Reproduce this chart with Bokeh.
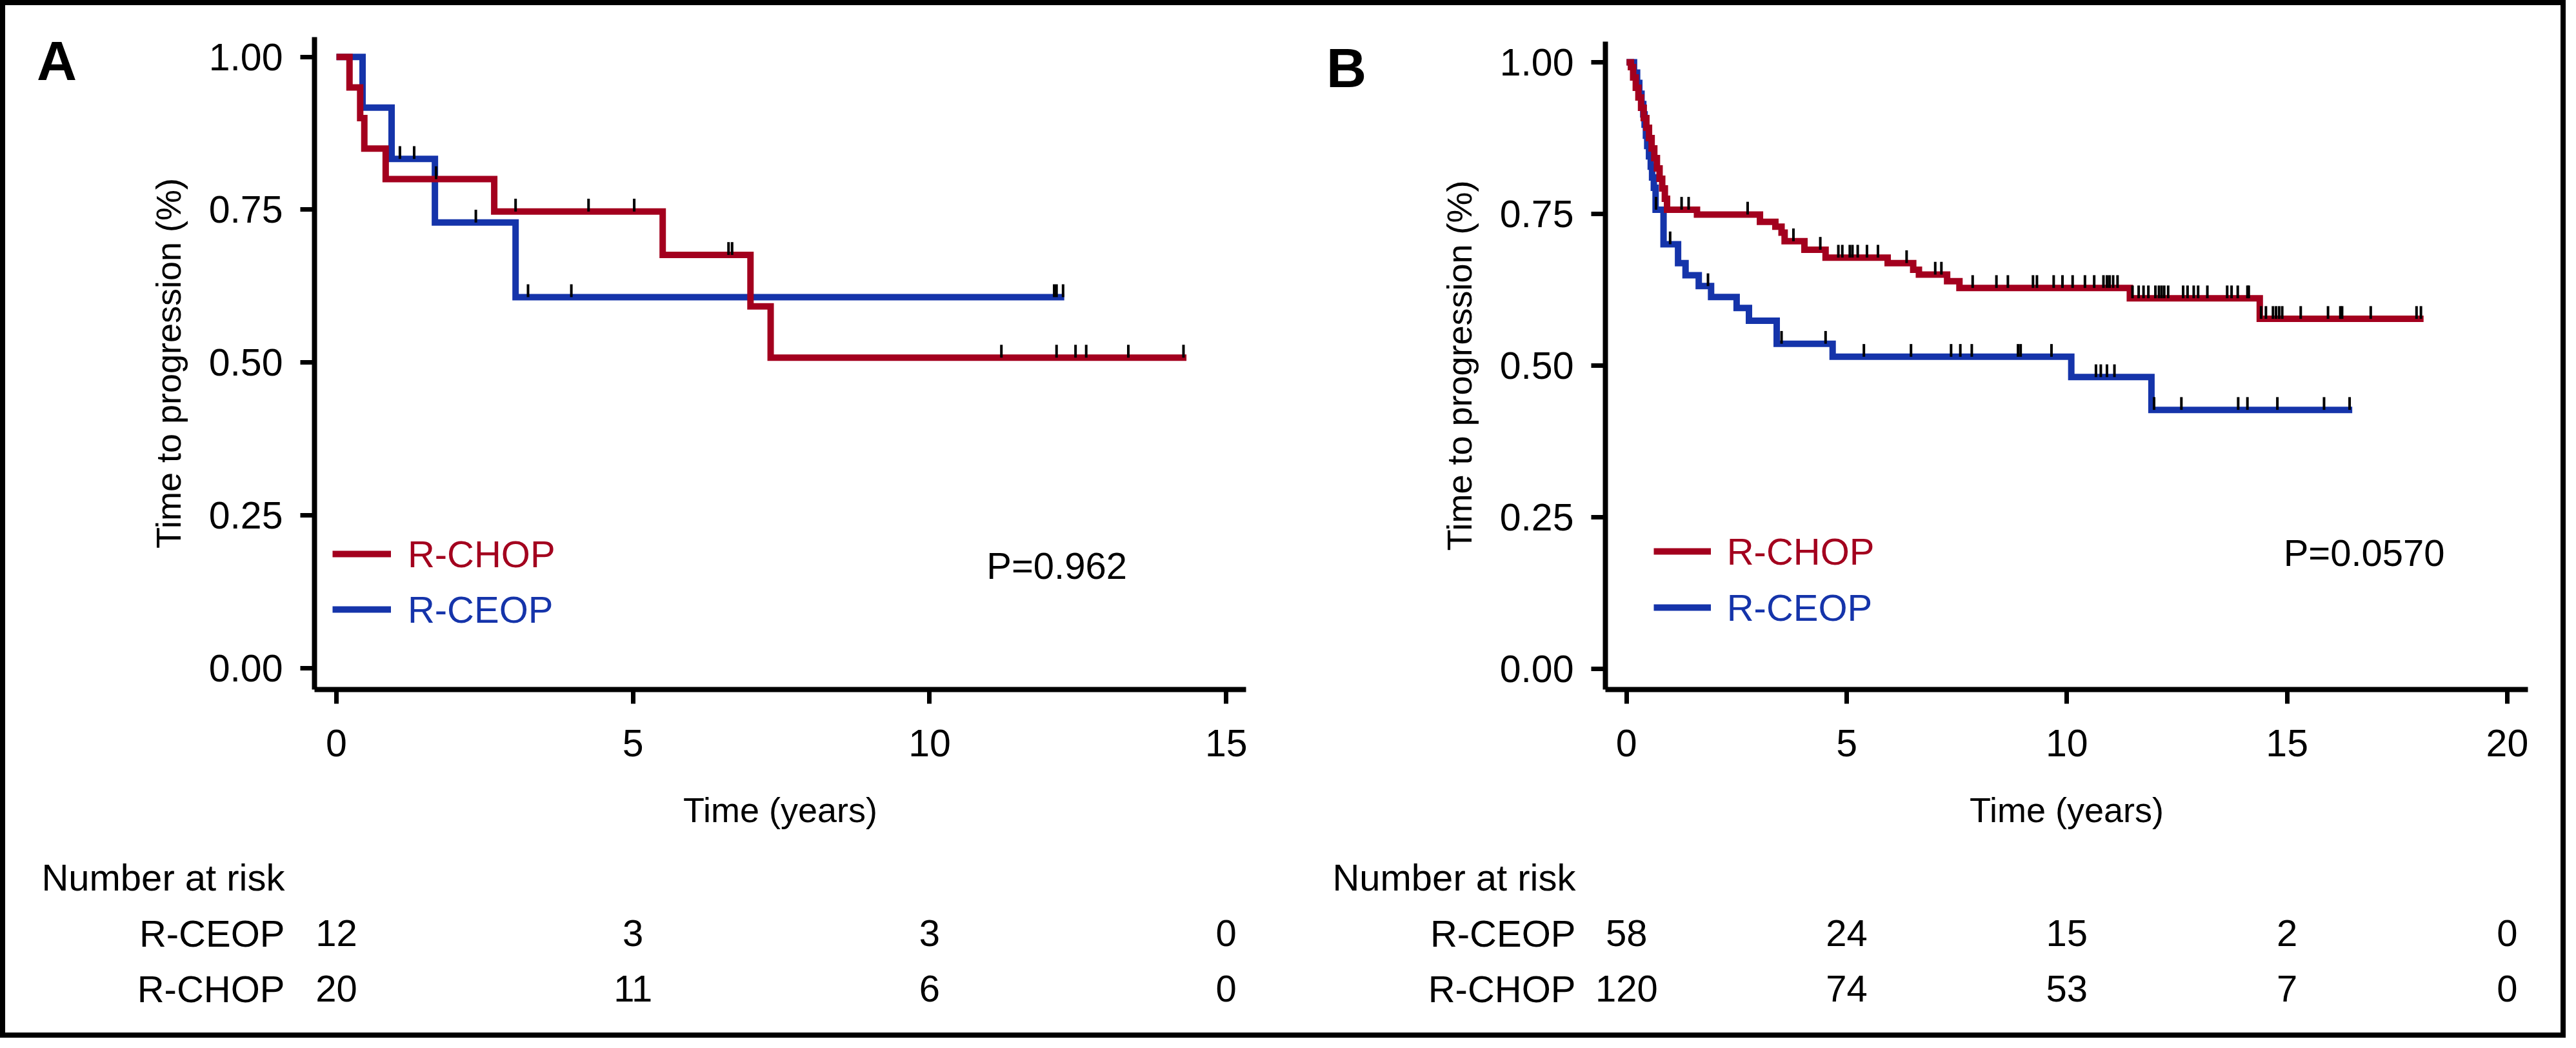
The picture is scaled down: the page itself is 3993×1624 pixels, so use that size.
import numpy as np
from bokeh.plotting import figure
from bokeh.models import (Range1d, FixedTicker, NumeralTickFormatter, Label, LabelSet,
                          Legend, LegendItem, ColumnDataSource, Div)
from bokeh.layouts import row, column
from bokeh.embed import file_html
from bokeh.resources import INLINE
from bokeh.core.properties import value

# ---------------------------------------------------------------- data
# Panel A
a_chop_time = [0, 0.22, 0.40, 0.47, 0.83, 2.66, 5.50, 6.98, 7.32, 14.33]
a_chop_surv = [1.0, 0.95, 0.90, 0.85, 0.80, 0.747, 0.676, 0.592, 0.508, 0.508]
a_chop_cens = [1.68, 3.02, 4.25, 5.02, 6.61, 6.67, 11.21, 12.14, 12.46, 12.64, 13.35, 14.28]
a_ceop_time = [0, 0.44, 0.93, 1.66, 3.02, 12.27]
a_ceop_surv = [1.0, 0.917, 0.833, 0.729, 0.607, 0.607]
a_ceop_cens = [1.07, 1.31, 2.35, 3.23, 3.96, 12.10, 12.14, 12.25]
a_risk_time = [0, 5, 10, 15]
a_risk_ceop = [12, 3, 3, 0]
a_risk_chop = [20, 11, 6, 0]
a_pvalue = "P=0.962"
a_xticks = [0, 5, 10, 15]

# Panel B
b_chop_time = [0, 0.10, 0.15, 0.21, 0.27, 0.33, 0.39, 0.45, 0.51, 0.57, 0.63, 0.69, 0.75,
               0.81, 0.87, 0.92, 1.60, 3.03, 3.38, 3.52, 3.59, 4.04, 4.52, 5.93, 6.51, 6.64,
               7.28, 7.56, 11.43, 14.38, 18.10]
b_chop_surv = [1.0, 0.992, 0.975, 0.958, 0.942, 0.925, 0.908, 0.892, 0.875, 0.858, 0.842,
               0.825, 0.808, 0.792, 0.775, 0.757, 0.749, 0.737, 0.729, 0.719, 0.705, 0.691,
               0.678, 0.669, 0.658, 0.650, 0.639, 0.628, 0.611, 0.577, 0.577]
b_chop_cens = [1.25, 1.41, 2.75, 3.79, 4.40, 4.81, 4.90, 5.07, 5.13, 5.25, 5.46, 5.71, 6.36,
               7.01, 7.15, 7.86, 8.40, 8.66, 9.23, 9.32, 9.70, 9.90, 10.13, 10.41, 10.62,
               10.83, 10.91, 10.97, 11.05, 11.15, 11.49, 11.63, 11.74, 11.85, 12.01, 12.09,
               12.15, 12.21, 12.30, 12.64, 12.74, 12.88, 12.98, 13.19, 13.64, 13.74, 13.88,
               14.10, 14.13, 14.41, 14.52, 14.68, 14.75, 14.82, 14.89, 15.31, 15.93, 16.21,
               16.25, 16.90, 17.94, 18.04]
b_ceop_time = [0, 0.17, 0.24, 0.29, 0.34, 0.38, 0.41, 0.44, 0.47, 0.51, 0.55, 0.58, 0.62,
               0.66, 0.84, 1.17, 1.34, 1.64, 1.92, 2.50, 2.78, 3.41, 4.68, 10.10, 11.92, 16.48]
b_ceop_surv = [1.0, 0.983, 0.966, 0.948, 0.931, 0.914, 0.897, 0.879, 0.862, 0.845, 0.828,
               0.810, 0.793, 0.757, 0.700, 0.669, 0.649, 0.631, 0.613, 0.595, 0.574, 0.536,
               0.5145, 0.481, 0.427, 0.427]
b_ceop_cens = [0.67, 0.99, 1.85, 3.52, 4.52, 5.39, 6.46, 7.37, 7.58, 7.84, 8.89, 8.95, 9.65,
               10.66, 10.77, 10.91, 11.08, 11.98, 12.60, 13.89, 14.10, 14.78, 15.84, 16.42]
b_risk_time = [0, 5, 10, 15, 20]
b_risk_ceop = [58, 24, 15, 2, 0]
b_risk_chop = [120, 74, 53, 7, 0]
b_pvalue = "P=0.0570"
b_xticks = [0, 5, 10, 15, 20]

y_ticks = [0, 0.25, 0.5, 0.75, 1.0]
groups = ["R-CHOP", "R-CEOP"]
risk_rows = ["R-CHOP", "R-CEOP", "Number at risk"]

# ---------------------------------------------------------------- style
RED = "#A3001E"
BLUE = "#1534AA"
FONT = "Liberation Sans"
TICK_H = 0.021
LW = 10

# reference-pixel -> layout-pixel helpers (inner area inside the 8px frame)
SX = 3961 / 3976
SY = 1592 / 1607
def X(r): return (r - 8) * SX
def Y(r): return (r - 8) * SY

WA = round(X(2000))
WB = 3961 - WA
HK = round(Y(1310))
HR = 1592 - HK


def style_axis(ax, label_standoff, axis_label_standoff):
    ax.axis_line_width = 8
    ax.axis_line_color = "black"
    ax.major_tick_line_width = 7
    ax.major_tick_line_color = "black"
    ax.major_tick_out = 22
    ax.major_tick_in = 0
    ax.minor_tick_line_color = None
    ax.major_label_text_font = FONT
    ax.major_label_text_font_size = "59px"
    ax.major_label_text_color = "black"
    ax.major_label_standoff = label_standoff
    ax.axis_label_text_font = FONT
    ax.axis_label_text_font_size = "54px"
    ax.axis_label_text_font_style = "normal"
    ax.axis_label_text_color = "black"
    ax.axis_label_standoff = axis_label_standoff


def surv_at(times, surv, t):
    idx = np.searchsorted(np.asarray(times), np.asarray(t), side="right") - 1
    return np.asarray(surv)[idx]


def letter_div(letter, width, left, top):
    html = ('<div style="padding-left:%dpx;padding-top:%dpx;font-family:\'Liberation Sans\';'
            'font-weight:bold;font-size:86px;line-height:86px;color:black">%s</div>'
            % (left, top, letter))
    return Div(text=html, width=width, height=HK, margin=0)


def km_panel(fig_x0, width, left_ref, right_ref, top_ref, xr, yr, xticks,
             chop_t, chop_s, chop_c, ceop_t, ceop_s, ceop_c, pval, pval_xy, leg_ref):
    fl_abs = round(X(left_ref))
    fr_abs = round(X(right_ref))
    ft = round(Y(top_ref))
    fb = round(Y(1078))
    p = figure(width=width, height=HK, x_range=Range1d(*xr), y_range=Range1d(*yr),
               min_border_left=fl_abs - fig_x0, min_border_right=fig_x0 + width - fr_abs,
               min_border_top=ft, min_border_bottom=HK - fb,
               toolbar_location=None, output_backend="svg",
               background_fill_color="white", border_fill_color="white",
               outline_line_color=None)
    p.grid.grid_line_color = None
    p.xaxis.ticker = FixedTicker(ticks=xticks)
    p.yaxis.ticker = FixedTicker(ticks=y_ticks)
    p.yaxis.formatter = NumeralTickFormatter(format="0.00")
    p.xaxis.axis_label = "Time (years)"
    p.yaxis.axis_label = "Time to progression (%)"
    style_axis(p.xaxis[0], 40, 50)
    style_axis(p.yaxis[0], 27, 30)

    r_ceop = p.step(x=ceop_t, y=ceop_s, mode="after", line_color=BLUE, line_width=LW,
                    line_join="miter")
    r_chop = p.step(x=chop_t, y=chop_s, mode="after", line_color=RED, line_width=LW,
                    line_join="miter")
    for c, t, s in ((ceop_c, ceop_t, ceop_s), (chop_c, chop_t, chop_s)):
        cy = surv_at(t, s, c)
        p.segment(x0=c, y0=cy, x1=c, y1=cy + TICK_H, line_color="black", line_width=4)

    # legends (one per group so each label gets its own colour)
    lx, lw, lstand, rows_c = leg_ref
    for grp, rend, col, cy in zip(groups, (r_chop, r_ceop), (RED, BLUE), rows_c):
        leg = Legend(items=[LegendItem(label=grp, renderers=[rend])],
                     location=(X(lx) - X(left_ref), Y(1078) - Y(cy + 29 + 13)),
                     glyph_width=round(lw * SX), glyph_height=58, label_height=58,
                     label_standoff=lstand, padding=0, margin=0, spacing=0,
                     border_line_color=None, background_fill_alpha=0,
                     label_text_font=FONT, label_text_font_size="58px",
                     label_text_color=col)
        p.add_layout(leg, "center")

    p.add_layout(Label(x=pval_xy[0], y=pval_xy[1], text=pval, text_font=FONT,
                       text_font_size="58px", text_baseline="middle", text_color="black"))
    return p, fl_abs, fr_abs, xr


def risk_panel(fig_x0, width, left_ref, km_fl, km_fr, xr, standoff, times, ceop, chop):
    rl_abs = round(X(left_ref))
    per_px = (xr[1] - xr[0]) / (km_fr - km_fl)
    x_range = Range1d(xr[0] - (km_fl - rl_abs) * per_px, xr[1])
    rt = round(Y(1328.5) - HK)
    rb = round(Y(1589.5) - HK)
    p = figure(width=width, height=HR, x_range=x_range, y_range=Range1d(-0.5, 2.5),
               x_axis_location=None, min_border_left=rl_abs - fig_x0,
               min_border_right=fig_x0 + width - km_fr,
               min_border_top=rt, min_border_bottom=HR - rb,
               toolbar_location=None, output_backend="svg",
               background_fill_color="white", border_fill_color="white",
               outline_line_color=None)
    p.grid.grid_line_color = None
    ax = p.yaxis[0]
    ax.ticker = FixedTicker(ticks=list(range(len(risk_rows))))
    ax.major_label_overrides = {i: name for i, name in enumerate(risk_rows)}
    ax.axis_line_color = None
    ax.major_tick_line_color = None
    ax.minor_tick_line_color = None
    ax.major_tick_out = 0
    ax.major_tick_in = 0
    ax.major_label_standoff = standoff
    ax.major_label_text_font = FONT
    ax.major_label_text_font_size = "58px"
    ax.major_label_text_color = "black"
    ypos = {g: i for i, g in enumerate(risk_rows)}
    src = ColumnDataSource(dict(
        x=list(times) + list(times),
        y=[ypos["R-CEOP"]] * len(times) + [ypos["R-CHOP"]] * len(times),
        text=[str(v) for v in ceop] + [str(v) for v in chop]))
    p.add_layout(LabelSet(x="x", y="y", text="text", source=src, text_align="center",
                          text_baseline="middle", text_font=value(FONT),
                          text_font_size=value("58px"), text_color="black"))
    return p


# ---- panel A
LA = round(X(160))
kmA, flA, frA, xrA = km_panel(LA, WA - LA, 489, 1938, 57, (-0.37, 15.335), (-0.035, 1.0324),
                              a_xticks, a_chop_time, a_chop_surv, a_chop_cens,
                              a_ceop_time, a_ceop_surv, a_ceop_cens,
                              a_pvalue, (10.96, 0.168), (517, 91, 26, (858, 945)))
divA = letter_div("A", LA, round(X(57)), round(Y(133) - 80.8))
rkA = risk_panel(0, WA, 470, flA, frA, xrA, 27, a_risk_time, a_risk_ceop, a_risk_chop)

# ---- panel B
LB = round(X(2150)) - WA
kmB, flB, frB, xrB = km_panel(WA + LB, WB - LB, 2497, 3933, 65, (-0.48, 20.47), (-0.034, 1.034),
                              b_xticks, b_chop_time, b_chop_surv, b_chop_cens,
                              b_ceop_time, b_ceop_surv, b_ceop_cens,
                              b_pvalue, (14.92, 0.192), (2572, 89, 25, (854, 942)))
divB = letter_div("B", LB, round(X(2064)) - WA, round(Y(142) - 78.8))
rkB = risk_panel(WA, WB, 2472, flB, frB, xrB, 21, b_risk_time, b_risk_ceop, b_risk_chop)

layout = row(column(row(divA, kmA), rkA), column(row(divB, kmB), rkB),
             styles={"border": "8px solid black", "background-color": "white"})

open("out.html", "w").write(file_html(layout, INLINE))
